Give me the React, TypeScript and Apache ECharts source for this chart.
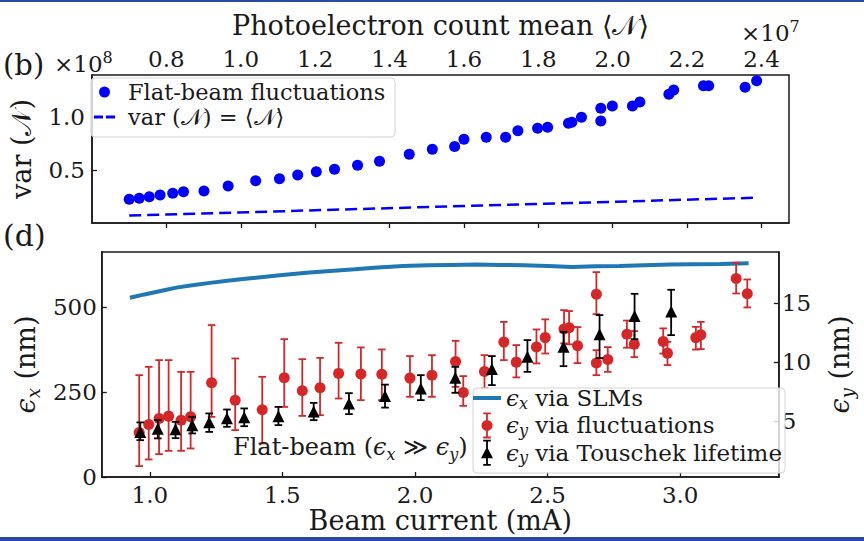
import React, { useEffect, useRef } from "react";
import * as echarts from "echarts";

// Panel (b): photoelectron count mean (x1e7) against its variance (x1e8)
const countMean = [0.700, 0.727, 0.754, 0.783, 0.817, 0.846, 0.901, 0.966, 1.040, 1.104, 1.153, 1.203, 1.252, 1.314, 1.373, 1.453, 1.515, 1.575, 1.600, 1.660, 1.712, 1.745, 1.798, 1.825, 1.881, 1.890, 1.916, 1.968, 1.968, 1.999, 2.053, 2.073, 2.151, 2.164, 2.244, 2.258, 2.356, 2.387];
const countVar = [0.224, 0.233, 0.248, 0.264, 0.280, 0.295, 0.302, 0.349, 0.399, 0.418, 0.453, 0.484, 0.507, 0.544, 0.582, 0.648, 0.695, 0.722, 0.790, 0.808, 0.808, 0.871, 0.893, 0.903, 0.941, 0.950, 0.997, 1.082, 0.962, 1.104, 1.104, 1.142, 1.214, 1.255, 1.295, 1.295, 1.280, 1.342];
// Poisson reference var = mean, end points of the dashed line
const poissonMean = [0.700, 2.387];
const poissonVar = [0.0700, 0.2387];

// Panel (d): horizontal emittance from the SLMs (nm)
const slmCurrent = [0.925, 0.98, 1.045, 1.10, 1.16, 1.227, 1.30, 1.36, 1.409, 1.50, 1.591, 1.68, 1.773, 1.86, 1.955, 2.05, 2.137, 2.23, 2.319, 2.41, 2.501, 2.592, 2.683, 2.77, 2.865, 2.96, 3.047, 3.15, 3.258];
const slmEmitX = [528, 538, 549, 558, 565, 572, 579, 584, 588, 595, 602, 607, 612, 617, 622, 624, 625, 626, 625, 624, 622, 619, 621, 622, 624, 626, 627, 628, 630];

// Vertical emittance from fluctuations (nm) with error bar limits
const flucCurrent = [0.960, 0.996, 1.035, 1.071, 1.118, 1.154, 1.233, 1.322, 1.424, 1.507, 1.575, 1.642, 1.712, 1.796, 1.875, 1.981, 2.064, 2.153, 2.182, 2.262, 2.335, 2.382, 2.458, 2.491, 2.562, 2.581, 2.613, 2.684, 2.684, 2.727, 2.799, 2.827, 2.936, 2.952, 3.059, 3.078, 3.211, 3.253];
const flucEmitY = [4.06, 4.74, 5.24, 5.44, 5.10, 5.38, 8.25, 6.79, 5.97, 8.69, 7.59, 7.83, 9.05, 8.99, 8.97, 8.65, 8.90, 10.06, 7.44, 9.21, 11.69, 10.00, 11.27, 12.07, 12.79, 12.91, 11.39, 15.74, 9.93, 10.23, 12.36, 11.52, 11.75, 10.76, 12.07, 12.31, 17.07, 15.77];
const flucLow = [1.22, 1.78, 2.23, 2.51, 2.51, 2.71, 5.38, 4.26, 3.13, 6.22, 5.46, 5.52, 6.93, 6.79, 6.79, 7.07, 7.07, 7.91, 6.31, 7.78, 10.17, 8.71, 9.89, 10.73, 11.58, 11.50, 9.92, 14.05, 8.90, 9.18, 11.22, 10.42, 10.73, 9.75, 11.06, 11.10, 15.80, 14.62];
const flucHigh = [8.90, 9.60, 10.17, 10.17, 9.18, 9.18, 13.13, 10.31, 8.76, 11.94, 10.25, 10.36, 11.63, 11.24, 11.07, 10.51, 10.59, 11.80, 8.82, 10.59, 13.40, 11.44, 12.76, 13.61, 14.39, 14.31, 12.96, 17.60, 11.01, 11.27, 13.51, 12.62, 12.85, 11.71, 12.98, 13.40, 18.39, 16.98];

// Vertical emittance from the Touschek lifetime (nm) with error bar limits
const touCurrent = [0.964, 1.030, 1.097, 1.160, 1.224, 1.291, 1.356, 1.485, 1.618, 1.751, 1.887, 2.022, 2.152, 2.290, 2.424, 2.560, 2.696, 2.828, 2.966];
const touEmitY = [4.09, 4.37, 4.34, 4.68, 4.92, 5.27, 5.35, 5.44, 5.84, 6.51, 7.13, 7.78, 8.69, 9.41, 10.45, 11.29, 12.36, 13.89, 14.28];
const touLow = [3.41, 3.56, 3.58, 3.98, 4.11, 4.54, 4.59, 4.68, 5.10, 5.61, 6.16, 6.79, 7.41, 8.06, 9.18, 9.66, 10.34, 11.94, 12.28];
const touHigh = [4.91, 5.10, 4.96, 5.38, 5.67, 6.00, 6.09, 6.22, 6.56, 7.38, 8.10, 8.90, 9.60, 10.51, 11.86, 12.56, 13.97, 15.77, 16.11];

const SERIF = '"DejaVu Serif", "Liberation Serif", serif';
const INK = "#1a1a1a";
const BLUE_DOT = "#0000ff";
const SLM_BLUE = "#1f77b4";
const RED = "#d62728";
const BLACK = "#000000";

const NAME_FLAT = "Flat-beam fluctuations";
const NAME_POISSON = "var (𝒩) = ⟨𝒩⟩";
const NAME_SLM = "ϵx via SLMs";
const NAME_FLUC = "ϵy via fluctuations";
const NAME_TOU = "ϵy via Touschek lifetime";

const legendRich: Record<string, string> = {
  [NAME_SLM]: "{e|ϵ}{s|x} via SLMs",
  [NAME_FLUC]: "{e|ϵ}{s|y} via fluctuations",
  [NAME_TOU]: "{e|ϵ}{s|y} via Touschek lifetime",
};

// math-style rich text: italic epsilon with a lowered subscript, raised exponent
const mathRich = (size: number, lh: number) => ({
  e: { fontFamily: SERIF, fontSize: size, fontStyle: "italic", color: INK, lineHeight: lh },
  s: {
    fontFamily: SERIF,
    fontSize: Math.round(size * 0.68),
    fontStyle: "italic",
    color: INK,
    verticalAlign: "bottom",
    lineHeight: Math.round(size * 0.68),
  },
  sup: {
    fontFamily: SERIF,
    fontSize: Math.round(size * 0.7),
    color: INK,
    verticalAlign: "top",
    lineHeight: Math.round(size * 0.7),
  },
});

// corner markers pin an icon's bounding box to the legend item box
const box = (w: number, h: number) => `M0,0L0.01,0L0.01,0.01Z M${w},${h}L${w - 0.01},${h}L${w - 0.01},${h - 0.01}Z `;
const DOT_ICON = "path://" + box(29, 24) + "M5,12A5.5,5.5 0 1,1 16,12A5.5,5.5 0 1,1 5,12Z";
const DASH_ICON = "path://" + box(29, 24) + "M0,10.5H9V13.5H0Z M12,10.5H21V13.5H12Z";
const LINE_ICON = "path://" + box(28, 26) + "M0,11H28V15H0Z";
const BAR = "M13.1,0H14.9V26H13.1Z M10.2,0H17.8V1.8H10.2Z M10.2,24.2H17.8V26H10.2Z ";
const RED_ICON = "path://" + box(28, 26) + BAR + "M8.5,13A5.5,5.5 0 1,1 19.5,13A5.5,5.5 0 1,1 8.5,13Z";
const TRI_ICON = "path://" + box(28, 26) + BAR + "M14,7L20,18.5L8,18.5Z";

const errorBarSeries = (name: string, xs: number[], lo: number[], hi: number[], color: string, z: number) => ({
  type: "custom",
  name,
  xAxisIndex: 1,
  yAxisIndex: 2,
  z,
  silent: true,
  encode: { x: 0, y: [1, 2] },
  data: xs.map((x, i) => [x, lo[i], hi[i]]),
  renderItem: (_params: any, api: any) => {
    const top = api.coord([api.value(0), api.value(2)]);
    const bot = api.coord([api.value(0), api.value(1)]);
    const cap = 3.8;
    const st = { stroke: color, lineWidth: 1.8 };
    return {
      type: "group",
      children: [
        { type: "line", shape: { x1: top[0], y1: top[1], x2: bot[0], y2: bot[1] }, style: st },
        { type: "line", shape: { x1: top[0] - cap, y1: top[1], x2: top[0] + cap, y2: top[1] }, style: st },
        { type: "line", shape: { x1: bot[0] - cap, y1: bot[1], x2: bot[0] + cap, y2: bot[1] }, style: st },
      ],
    };
  },
});

const axisCommon = {
  axisLine: { show: true, lineStyle: { color: INK, width: 1.5 } },
  axisTick: { show: true, inside: true, length: 5, lineStyle: { color: INK, width: 1.3 } },
  splitLine: { show: false },
};
const tickFont = { fontFamily: SERIF, fontSize: 23, color: INK };

export default function App() {
  const ref = useRef<HTMLDivElement>(null);

  useEffect(() => {
    if (!ref.current) return;
    const chart = echarts.init(ref.current, undefined, { renderer: "svg" });

    const option: any = {
      animation: false,
      backgroundColor: "#ffffff",
      grid: [
        { left: 88, top: 75, width: 701, height: 148, show: true, borderColor: INK, borderWidth: 1.5, backgroundColor: "transparent" },
        { left: 88, top: 252, width: 701, height: 225, show: true, borderColor: INK, borderWidth: 1.5, backgroundColor: "transparent" },
      ],
      xAxis: [
        {
          ...axisCommon,
          gridIndex: 0,
          type: "value",
          position: "top",
          min: 0.6,
          max: 2.474,
          interval: 0.2,
          axisLabel: { ...tickFont, margin: 5, showMinLabel: false, showMaxLabel: false, formatter: (v: number) => v.toFixed(1) },
          name: "Photoelectron count mean ⟨𝒩⟩",
          nameLocation: "middle",
          nameGap: 36,
          nameTextStyle: { fontFamily: SERIF, fontSize: 27, color: INK },
        },
        {
          ...axisCommon,
          gridIndex: 1,
          type: "value",
          position: "bottom",
          min: 0.819,
          max: 3.372,
          splitNumber: 5,
          axisLabel: { ...tickFont, margin: 6, showMinLabel: false, showMaxLabel: false, formatter: (v: number) => v.toFixed(1) },
          name: "Beam current (mA)",
          nameLocation: "middle",
          nameGap: 30,
          nameTextStyle: { fontFamily: SERIF, fontSize: 27, color: INK },
        },
      ],
      yAxis: [
        {
          ...axisCommon,
          gridIndex: 0,
          type: "value",
          position: "left",
          min: 0,
          max: 1.396,
          interval: 0.5,
          axisLabel: { ...tickFont, margin: 7, showMinLabel: false, showMaxLabel: false, formatter: (v: number) => v.toFixed(1) },
          name: "var (𝒩)",
          nameLocation: "middle",
          nameRotate: 90,
          nameGap: 57,
          nameTextStyle: { fontFamily: SERIF, fontSize: 27, color: INK },
        },
        {
          ...axisCommon,
          gridIndex: 1,
          type: "value",
          position: "left",
          min: 0,
          max: 663,
          interval: 250,
          axisLabel: { ...tickFont, margin: 5, showMinLabel: true, showMaxLabel: false },
          name: "{e|ϵ}{s|x} (nm)",
          nameLocation: "middle",
          nameRotate: 90,
          nameGap: 53,
          nameTextStyle: { fontFamily: SERIF, fontSize: 27, color: INK, lineHeight: 34, rich: mathRich(27, 34) },
        },
        {
          ...axisCommon,
          gridIndex: 1,
          type: "value",
          position: "right",
          min: 0.3,
          max: 19.3,
          splitNumber: 4,
          axisLabel: { ...tickFont, margin: 3, showMinLabel: false, showMaxLabel: false },
          name: "{e|ϵ}{s|y} (nm)",
          nameLocation: "middle",
          nameRotate: 90,
          nameGap: 27,
          nameTextStyle: { fontFamily: SERIF, fontSize: 27, color: INK, lineHeight: 34, rich: mathRich(27, 34) },
        },
      ],
      legend: [
        {
          orient: "vertical",
          left: 94,
          top: 80,
          padding: 0,
          itemWidth: 29,
          itemHeight: 24,
          itemGap: 1,
          selectedMode: false,
          z: 10,
          textStyle: { fontFamily: SERIF, fontSize: 22.5, color: INK, lineHeight: 24 },
          data: [
            { name: NAME_FLAT, icon: DOT_ICON, itemStyle: { color: BLUE_DOT, borderWidth: 0 } },
            { name: NAME_POISSON, icon: DASH_ICON, itemStyle: { color: BLUE_DOT, borderWidth: 0 } },
          ],
        },
        {
          orient: "vertical",
          left: 473,
          top: 385,
          padding: 0,
          itemWidth: 28,
          itemHeight: 26,
          itemGap: 1.4,
          selectedMode: false,
          z: 10,
          formatter: (n: string) => legendRich[n] ?? n,
          textStyle: { fontFamily: SERIF, fontSize: 23, color: INK, lineHeight: 26, rich: mathRich(23, 26) },
          data: [
            { name: NAME_SLM, icon: LINE_ICON, itemStyle: { color: SLM_BLUE, borderWidth: 0 } },
            { name: NAME_FLUC, icon: RED_ICON, itemStyle: { color: RED, borderWidth: 0 } },
            { name: NAME_TOU, icon: TRI_ICON, itemStyle: { color: BLACK, borderWidth: 0 } },
          ],
        },
      ],
      graphic: [
        // legend frames
        { type: "rect", z: 8, shape: { x: 91, y: 78, width: 304, height: 59, r: 4 }, style: { fill: "rgba(255,255,255,0.8)", stroke: "#d4d4d4", lineWidth: 1 } },
        { type: "rect", z: 8, shape: { x: 473, y: 388, width: 312, height: 85, r: 4 }, style: { fill: "rgba(255,255,255,0.8)", stroke: "#d4d4d4", lineWidth: 1 } },
        // panel tags and scale factors
        { type: "text", x: 3, y: 65, style: { text: "(b)", fontFamily: SERIF, fontSize: 29, fill: INK, align: "left", verticalAlign: "middle" } },
        {
          type: "text",
          x: 54,
          y: 64,
          style: { text: "×10{sup|8}", fontFamily: SERIF, fontSize: 23, lineHeight: 30, fill: INK, align: "left", verticalAlign: "middle", rich: mathRich(23, 30) },
        },
        {
          type: "text",
          x: 741,
          y: 33,
          style: { text: "×10{sup|7}", fontFamily: SERIF, fontSize: 23, lineHeight: 30, fill: INK, align: "left", verticalAlign: "middle", rich: mathRich(23, 30) },
        },
        { type: "text", x: 3, y: 235, style: { text: "(d)", fontFamily: SERIF, fontSize: 30, fill: INK, align: "left", verticalAlign: "middle" } },
        {
          type: "text",
          x: 233,
          y: 447,
          z: 9,
          style: {
            text: "Flat-beam ({e|ϵ}{s|x} ≫ {e|ϵ}{s|y})",
            fontFamily: SERIF,
            fontSize: 24,
            lineHeight: 30,
            fill: INK,
            align: "left",
            verticalAlign: "middle",
            rich: mathRich(24, 30),
          },
        },
        // frame lines
        { type: "rect", shape: { x: 0, y: 0, width: 864, height: 2 }, style: { fill: "#2b4aa3" } },
        { type: "rect", shape: { x: 0, y: 537, width: 864, height: 4 }, style: { fill: "#2b4aa3" } },
      ],
      series: [
        {
          type: "scatter",
          name: NAME_FLAT,
          xAxisIndex: 0,
          yAxisIndex: 0,
          symbol: "circle",
          symbolSize: 11,
          itemStyle: { color: BLUE_DOT, opacity: 1 },
          data: countMean.map((m, i) => [m, countVar[i]]),
          z: 3,
        },
        {
          type: "line",
          name: NAME_POISSON,
          xAxisIndex: 0,
          yAxisIndex: 0,
          showSymbol: false,
          lineStyle: { color: BLUE_DOT, width: 2.5, type: [12, 6] },
          itemStyle: { color: BLUE_DOT },
          data: poissonMean.map((m, i) => [m, poissonVar[i]]),
          z: 2,
        },
        {
          type: "line",
          name: NAME_SLM,
          xAxisIndex: 1,
          yAxisIndex: 1,
          showSymbol: false,
          lineStyle: { color: SLM_BLUE, width: 4 },
          itemStyle: { color: SLM_BLUE },
          data: slmCurrent.map((c, i) => [c, slmEmitX[i]]),
          z: 2,
        },
        errorBarSeries("fluc-err", flucCurrent, flucLow, flucHigh, RED, 3),
        {
          type: "scatter",
          name: NAME_FLUC,
          xAxisIndex: 1,
          yAxisIndex: 2,
          symbol: "circle",
          symbolSize: 11,
          itemStyle: { color: RED, opacity: 1 },
          data: flucCurrent.map((c, i) => [c, flucEmitY[i]]),
          z: 4,
        },
        errorBarSeries("tou-err", touCurrent, touLow, touHigh, BLACK, 5),
        {
          type: "scatter",
          name: NAME_TOU,
          xAxisIndex: 1,
          yAxisIndex: 2,
          symbol: "triangle",
          symbolSize: 12,
          itemStyle: { color: BLACK, opacity: 1 },
          data: touCurrent.map((c, i) => [c, touEmitY[i]]),
          z: 6,
        },
      ],
    };

    chart.setOption(option);
    return () => chart.dispose();
  }, []);

  return (
    <div
      ref={ref}
      style={{ position: "absolute", left: 0, top: 0, width: 864, height: 541, background: "#ffffff" }}
    />
  );
}
